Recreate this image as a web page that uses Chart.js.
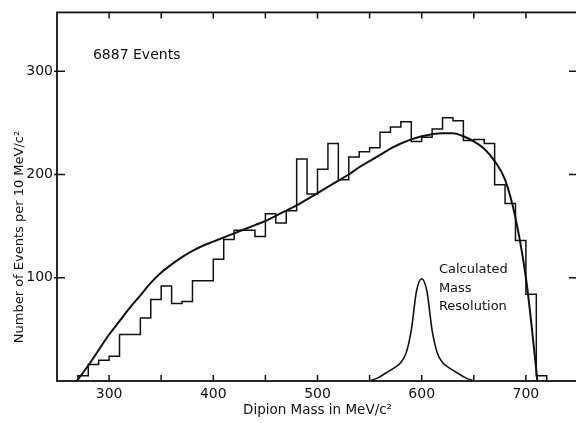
<!DOCTYPE html>
<html>
<head>
<meta charset="utf-8">
<script src="https://cdn.jsdelivr.net/npm/chart.js@4.4.1/dist/chart.umd.min.js"></script>
<style>
  html, body { margin: 0; padding: 0; background: #fff; overflow: hidden; }
  #wrap { position: relative; width: 584px; height: 423px; }
</style>
</head>
<body>
<div id="wrap"><canvas id="c" width="584" height="423"></canvas></div>
<script>
// histogram: lower bin edge (MeV/c^2) and counts per 10 MeV
var binEdges = [270,280,290,300,310,320,330,340,350,360,370,380,390,400,410,420,430,440,450,460,
                470,480,490,500,510,520,530,540,550,560,570,580,590,600,610,620,630,640,650,660,
                670,680,690,700,710];
var binCounts = [5,16,20,24,45,45,61,79,92,75,77,97,97,118,137,146,146,140,162,153,
                 165,215,181,205,230,195,217,222,226,241,246,251,232,236,244,255,252,233,234,230,
                 190,172,136,84,5];
var binWidth = 10;

// fitted curve
var curveMass  = [269,280,290,300,310,320,330,340,350,360,370,380,390,400,410,420,430,440,450,460,
                  470,480,490,500,510,520,530,540,550,560,570,580,590,600,610,620,630,640,650,660,
                  670,680,690,700,705,710,711];
var curveValue = [0,15,30,45,58,71,83,95,105,113,120,126,131,135,139,143,147,151,155,160,
                  165,170,176,182,188,194,200,207,213,219,225,230,234,237,239,240,240,237,232,225,
                  213,195,158,100,58,10,0];

// calculated mass resolution
var resMass  = [550,558,566,574,580,585,590,595,600,605,610,615,620,626,634,642,650];
var resValue = [0,3,8,13,18,27,49,87,99,87,49,27,18,13,8,3,0];

var xTicks = [300,400,500,600,700];
var yTicks = [100,200,300];
var xMinor = [300,350,400,450,500,550,600,650,700];

var INK = "#111";
var FONT = "'DejaVu Sans', 'Liberation Sans', sans-serif";

var histPts = [{ x: binEdges[0], y: 0 }];
binEdges.forEach(function(e, i) { histPts.push({ x: e, y: binCounts[i] }); });
histPts.push({ x: binEdges[binEdges.length - 1] + binWidth, y: 0 });

function pts(xs, ys) { return xs.map(function(x, i) { return { x: x, y: ys[i] }; }); }

var frame = {
  id: "frame",
  afterDraw: function(chart) {
    var ctx = chart.ctx, a = chart.chartArea, xs = chart.scales.x, ys = chart.scales.y;
    ctx.save();
    ctx.strokeStyle = INK;
    ctx.lineWidth = 1.8;
    ctx.strokeRect(a.left, a.top, a.right - a.left, a.bottom - a.top);
    ctx.lineWidth = 1.5;
    ctx.beginPath();
    xMinor.forEach(function(m) {
      var px = xs.getPixelForValue(m);
      ctx.moveTo(px, a.bottom); ctx.lineTo(px, a.bottom - 6);
      ctx.moveTo(px, a.top); ctx.lineTo(px, a.top + 6);
    });
    yTicks.forEach(function(v) {
      var py = ys.getPixelForValue(v);
      ctx.moveTo(a.left - 3, py); ctx.lineTo(a.left + 8, py);
      ctx.moveTo(a.right, py); ctx.lineTo(a.right - 9, py);
    });
    ctx.stroke();

    ctx.fillStyle = INK;
    ctx.textBaseline = "middle";
    ctx.font = "14px " + FONT;
    ctx.fillText("6887 Events", xs.getPixelForValue(284.5), ys.getPixelForValue(315));
    ctx.font = "13px " + FONT;
    var lx = xs.getPixelForValue(616.5);
    ctx.fillText("Calculated", lx, ys.getPixelForValue(107.5));
    ctx.fillText("Mass", lx, ys.getPixelForValue(89.5));
    ctx.fillText("Resolution", lx, ys.getPixelForValue(72));

    // y axis title, sits lower than the plot centre in the original
    ctx.translate(20, 237);
    ctx.rotate(-Math.PI / 2);
    ctx.textAlign = "center";
    ctx.font = "13px " + FONT;
    ctx.fillText("Number of Events per 10 MeV/c²", 0, 0);
    ctx.restore();
  }
};

new Chart(document.getElementById("c"), {
  type: "line",
  data: {
    datasets: [
      { data: histPts, stepped: "before", borderColor: INK, borderWidth: 1.5, pointRadius: 0, fill: false },
      { data: pts(curveMass, curveValue), borderColor: INK, borderWidth: 2, pointRadius: 0,
        cubicInterpolationMode: "monotone", fill: false },
      { data: pts(resMass, resValue), borderColor: INK, borderWidth: 1.6, pointRadius: 0,
        cubicInterpolationMode: "monotone", fill: false }
    ]
  },
  options: {
    responsive: false, animation: false, events: [],
    layout: { padding: { top: 6, right: 6, left: 0, bottom: 0 } },
    plugins: { legend: { display: false }, tooltip: { enabled: false } },
    scales: {
      x: {
        type: "linear", min: 250, max: 750,
        grid: { display: false, drawTicks: false },
        border: { display: false },
        afterBuildTicks: function(s) { s.ticks = xTicks.map(function(v) { return { value: v }; }); },
        afterFit: function(s) { s.height = 42; },
        ticks: { color: INK, font: { size: 14, family: FONT }, padding: 5, maxRotation: 0 },
        title: { display: true, text: "Dipion Mass in MeV/c²", color: INK, font: { size: 13.5, family: FONT }, padding: { top: 0 } }
      },
      y: {
        type: "linear", min: 0, max: 357,
        grid: { display: false, drawTicks: false },
        border: { display: false },
        afterBuildTicks: function(s) { s.ticks = yTicks.map(function(v) { return { value: v }; }); },
        afterFit: function(s) { s.width = 57; },
        ticks: { color: INK, font: { size: 14, family: FONT }, padding: 4 }
      }
    }
  },
  plugins: [frame]
});
</script>
</body>
</html>
